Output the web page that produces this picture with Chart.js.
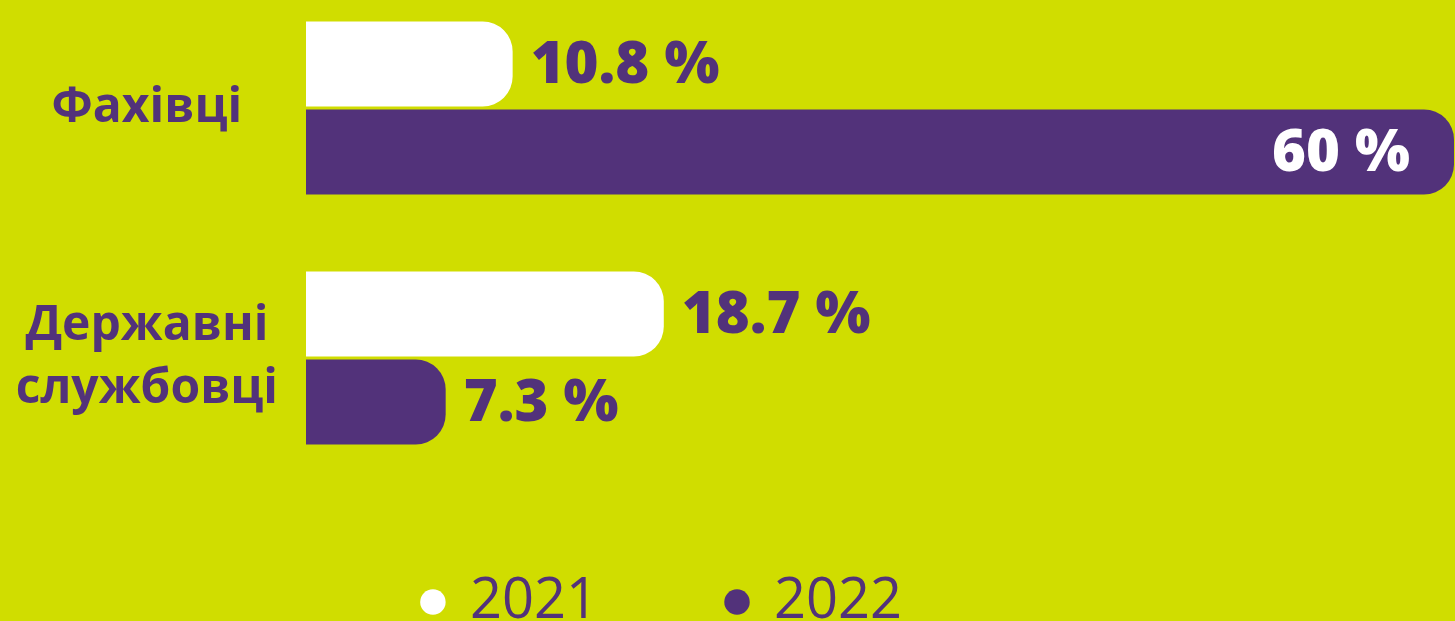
<!DOCTYPE html>
<html lang="uk">
<head>
<meta charset="utf-8">
<title>Фахівці та державні службовці</title>
<script src="https://cdn.jsdelivr.net/npm/chart.js@4.4.1/dist/chart.umd.min.js"></script>
<style>
    html, body {
        margin: 0;
        padding: 0;
        background: #D0DD00;
        overflow: hidden;
    }
    /* the plot starts a little above the visible page */
    .chart-wrap {
        position: relative;
        width: 1455px;
        height: 638px;
        margin-top: -17px;
    }
</style>
</head>
<body>
<div class="chart-wrap">
    <canvas id="barChart"></canvas>
</div>
<script>
// Data
const categories = ['Фахівці', ['Державні', 'службовці']];
const seriesNames = ['2021', '2022'];
const values2021 = [10.8, 18.7];
const values2022 = [60, 7.3];
const axisMax = 60;

// Colours
const PURPLE = '#52327A';
const WHITE = '#FFFFFF';

// Value labels next to / inside bars
const valueLabels = {
    id: 'valueLabels',
    afterDatasetsDraw(chart) {
        const ctx = chart.ctx;
        ctx.save();
        ctx.font = '800 58px "Open Sans", sans-serif';
        ctx.textBaseline = 'middle';
        chart.data.datasets.forEach((ds, i) => {
            chart.getDatasetMeta(i).data.forEach((bar, j) => {
                const v = ds.data[j];
                const text = v + ' %';
                if (v >= axisMax * 0.8) {
                    ctx.fillStyle = WHITE;
                    ctx.textAlign = 'right';
                    ctx.fillText(text, bar.x - 44, bar.y + 2);
                } else {
                    ctx.fillStyle = PURPLE;
                    ctx.textAlign = 'left';
                    ctx.fillText(text, bar.x + 18, bar.y + 2);
                }
            });
        });
        ctx.restore();
    }
};

// Pull the legend up a bit (its padding also sets the gap between items)
const legendShift = {
    id: 'legendShift',
    afterLayout(chart) {
        chart.legend.top -= 39;
        chart.legend.bottom -= 39;
    }
};

const ctx = document.getElementById('barChart').getContext('2d');
new Chart(ctx, {
    type: 'bar',
    data: {
        labels: categories,
        datasets: [
            {
                label: seriesNames[0],
                data: values2021,
                backgroundColor: WHITE,
                borderWidth: 0,
                borderRadius: 30
            },
            {
                label: seriesNames[1],
                data: values2022,
                backgroundColor: PURPLE,
                borderWidth: 0,
                borderRadius: 30
            }
        ]
    },
    options: {
        indexAxis: 'y',
        responsive: true,
        maintainAspectRatio: false,
        animation: false,
        categoryPercentage: 0.704,
        barPercentage: 0.966,
        layout: {
            padding: { left: -128, right: 1, top: 0, bottom: -58 }
        },
        scales: {
            x: {
                display: false,
                min: 0,
                max: axisMax
            },
            y: {
                grid: { display: false },
                border: { display: false },
                afterFit: (scale) => {
                    scale.width = 434;
                    scale.paddingTop = 0;
                    scale.paddingBottom = 0;
                },
                ticks: {
                    color: PURPLE,
                    crossAlign: 'center',
                    padding: 20,
                    font: {
                        family: "'Open Sans', sans-serif",
                        size: 48,
                        weight: '700',
                        lineHeight: 1.31
                    }
                }
            }
        },
        plugins: {
            legend: {
                position: 'bottom',
                labels: {
                    usePointStyle: true,
                    pointStyle: 'circle',
                    boxWidth: 18,
                    boxHeight: 18,
                    padding: 130,
                    color: PURPLE,
                    font: {
                        family: "'Open Sans', sans-serif",
                        size: 56,
                        weight: '400'
                    }
                }
            },
            tooltip: { enabled: false }
        }
    },
    plugins: [valueLabels, legendShift]
});
</script>
</body>
</html>
